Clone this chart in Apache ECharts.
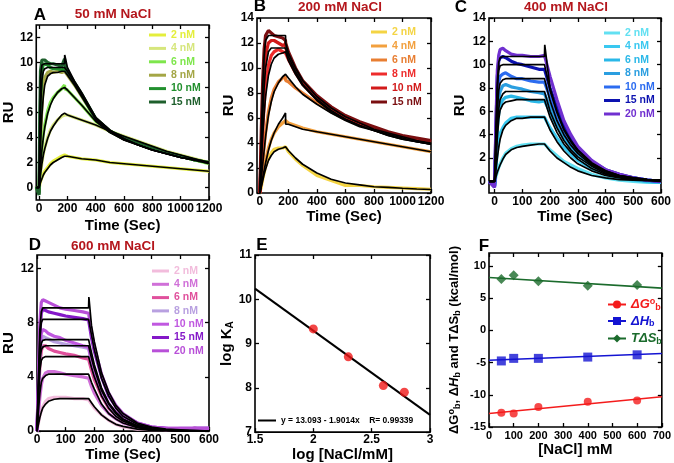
<!DOCTYPE html>
<html><head><meta charset="utf-8">
<script src="https://cdn.jsdelivr.net/npm/echarts@6/dist/echarts.min.js"></script>
<style>html,body{margin:0;padding:0;background:#fff}#c{width:674px;height:463px}</style>
</head><body><div id="c"></div>
<script>
// ---------- Panel A: 50 mM NaCl ----------
const tA = [-20,0,5,10,20,30,40,60,80,100,130,160,180,181,200,250,300,400,500,600,700,800,900,1000,1100,1200];
const A2   = [0.1,-0.3,0.3,0.5,0.8,1.1,1.3,1.6,1.9,2.1,2.3,2.5,2.6,2.5,2.5,2.4,2.3,2.2,2.0,1.9,1.8,1.7,1.6,1.5,1.4,1.3];
const A2f  = [0,0,0.2,0.4,0.7,1.0,1.2,1.5,1.8,2.0,2.2,2.4,2.5,2.5,2.5,2.4,2.3,2.2,2.0,1.9,1.8,1.7,1.6,1.5,1.4,1.3];
const A4   = [0,-0.2,0.6,1.1,2.0,2.7,3.2,4.0,4.6,5.0,5.4,5.7,5.8,5.9,5.8,5.6,5.4,5.0,4.5,4.1,3.7,3.3,2.9,2.6,2.3,2.0];
const A4f  = [0,0,0.5,1.0,1.9,2.6,3.1,3.9,4.5,4.9,5.4,5.8,5.95,5.95,5.8,5.6,5.4,5.0,4.5,4.1,3.7,3.3,2.9,2.6,2.3,2.0];
const A6   = [0,-0.3,1.0,2.0,3.3,4.3,5.0,6.1,6.8,7.2,7.6,7.9,8.2,7.9,7.8,7.2,6.6,5.3,4.5,3.9,3.5,3.1,2.8,2.5,2.2,1.9];
const A6f  = [0,0,0.9,1.7,3.0,4.0,4.8,5.9,6.6,7.1,7.6,7.9,8.0,8.0,7.8,7.2,6.6,5.3,4.4,3.8,3.4,3.0,2.7,2.4,2.2,1.9];
const A8   = [0,-0.4,2.0,4.0,6.5,8.0,8.8,9.2,9.3,9.2,9.3,9.2,9.3,9.2,9.0,8.2,7.3,5.5,4.5,3.9,3.5,3.1,2.8,2.5,2.2,2.0];
const A8f  = [0,0,1.8,3.5,5.8,7.3,8.2,8.9,9.1,9.2,9.2,9.3,9.3,9.3,9.0,8.2,7.3,5.5,4.5,3.8,3.4,3.0,2.7,2.4,2.2,2.0];
const A10  = [0,-0.5,3.5,7.0,9.3,9.9,10.0,9.8,9.6,9.5,9.5,9.4,9.5,9.4,9.2,8.3,7.4,5.5,4.5,3.9,3.5,3.1,2.8,2.5,2.2,2.0];
const A10f = [0,0,3.5,6.3,8.6,9.3,9.5,9.6,9.6,9.6,9.6,9.6,9.6,9.6,9.3,8.4,7.5,5.5,4.5,3.9,3.4,3.0,2.7,2.4,2.2,2.0];
const A15  = [0.1,-0.6,5.5,9.3,10.2,10.3,10.2,10.0,9.9,9.9,9.8,9.7,10.3,9.8,9.3,8.4,7.5,5.5,4.5,4.0,3.6,3.2,2.8,2.5,2.2,2.0];
const A15f = [0,0,5.0,8.8,9.8,9.9,9.9,9.9,9.9,9.9,9.9,9.9,9.9,10.6,9.6,8.5,7.6,5.6,4.6,3.9,3.4,3.0,2.7,2.4,2.2,2.0];

// ---------- Panel B: 200 mM NaCl ----------
const tB = [0,10,20,30,40,60,80,100,130,160,180,181,200,250,300,400,500,600,700,800,900,1000,1100,1200];
const B2   = [0,0.5,1.1,1.6,2.1,2.8,3.2,3.5,3.6,3.6,3.7,3.6,3.3,2.7,2.2,1.4,1.0,0.6,0.6,0.5,0.45,0.4,0.35,0.3];
const B2f  = [0,0.5,1.0,1.5,1.9,2.6,3.0,3.3,3.5,3.6,3.7,3.7,3.4,2.8,2.3,1.6,1.1,0.8,0.65,0.5,0.45,0.38,0.32,0.28];
const B4   = [0,0.7,1.3,2.0,2.6,3.6,4.3,4.8,5.3,5.6,5.8,5.8,5.6,5.4,5.2,4.9,4.7,4.5,4.3,4.1,3.9,3.7,3.5,3.3];
const B4f  = [0,0.6,1.2,1.8,2.4,3.4,4.2,4.8,5.5,6.0,6.4,5.5,5.5,5.3,5.1,4.9,4.7,4.5,4.3,4.1,3.9,3.7,3.5,3.3];
const B6   = [0,1.2,2.5,3.7,4.8,6.5,7.6,8.3,8.9,9.2,9.3,9.0,8.9,8.4,8.0,7.2,6.5,5.9,5.5,5.1,4.7,4.4,4.2,4.0];
const B6f  = [0,1.1,2.3,3.4,4.5,6.2,7.3,8.1,8.8,9.3,9.5,9.5,9.2,8.5,7.9,7.1,6.4,5.8,5.3,5.0,4.6,4.3,4.1,3.9];
const B8   = [0,2.5,5.0,7.0,8.5,10.2,11.0,11.3,11.5,11.3,11.2,11.1,10.7,9.6,8.7,7.5,6.6,6.0,5.5,5.1,4.7,4.5,4.3,4.1];
const B8f  = [0,2.3,4.5,6.3,7.7,9.4,10.3,10.8,11.1,11.2,11.3,11.3,10.6,9.5,8.6,7.4,6.5,5.9,5.4,5.0,4.6,4.3,4.1,3.9];
const B10  = [0,3.5,7.0,9.5,11.0,12.0,12.2,12.2,12.0,11.8,11.9,11.6,11.0,9.8,8.8,7.6,6.7,6.0,5.5,5.1,4.8,4.5,4.3,4.1];
const B10f = [0,3.3,6.3,8.5,10.0,11.3,11.6,11.6,11.6,11.6,11.6,11.6,10.9,9.7,8.7,7.5,6.6,5.9,5.4,5.0,4.7,4.4,4.1,3.9];
const B15  = [0,5.0,9.0,11.5,12.6,13.0,12.8,12.6,12.5,12.4,12.2,12.0,11.3,10.0,9.0,7.8,6.9,6.2,5.7,5.3,4.9,4.6,4.4,4.2];
const B15f = [0,4.5,8.5,11.0,12.2,12.6,12.6,12.6,12.6,12.6,12.6,12.0,11.2,10.0,9.0,7.7,6.8,6.1,5.6,5.1,4.8,4.5,4.2,4.0];

// ---------- Panel C: 400 mM NaCl ----------
const tC = [-20,0,5,10,15,20,30,40,60,80,100,130,160,180,181,200,225,250,275,300,350,400,450,500,550,600];
const C2   = [0,-0.3,0.4,0.8,1.2,1.5,2.0,2.4,2.8,3.0,3.1,3.2,3.2,3.2,3.2,2.7,2.2,1.7,1.4,1.1,0.6,0.3,0.1,0,-0.1,-0.1];
const C2f  = [0,0,0.4,0.8,1.1,1.4,1.9,2.3,2.7,2.9,3.0,3.1,3.2,3.2,3.2,2.6,2.0,1.6,1.2,0.9,0.5,0.3,0.15,0.1,0.05,0];
const C4   = [0,-0.3,1.2,2.5,3.5,4.1,4.6,5.0,5.4,5.5,5.5,5.5,5.5,5.5,5.4,4.6,3.7,2.9,2.3,1.8,1.1,0.6,0.3,0.1,0,-0.1];
const C4f  = [0,0,1.0,2.0,2.9,3.6,4.4,4.8,5.2,5.4,5.4,5.5,5.5,5.5,5.5,4.4,3.4,2.6,2.0,1.5,0.9,0.5,0.3,0.15,0.1,0.05];
const C6   = [0,-0.4,2.0,4.5,5.8,6.5,7.0,7.2,7.3,7.2,7.1,6.9,6.8,6.9,6.8,5.9,4.7,3.7,2.9,2.2,1.4,0.8,0.4,0.2,0,-0.1];
const C6f  = [0,0,1.8,3.8,5.3,6.1,6.6,6.8,6.9,7.0,7.0,7.0,7.0,7.0,7.0,5.5,4.2,3.2,2.5,1.9,1.1,0.6,0.35,0.2,0.1,0.05];
const C8   = [0,-0.4,2.5,5.5,7.0,7.7,8.2,8.3,8.1,8.0,7.9,7.7,7.6,7.5,7.4,6.4,5.1,4.0,3.1,2.4,1.5,0.9,0.5,0.3,0.1,0];
const C8f  = [0,0,2.2,4.5,6.2,7.0,7.5,7.7,7.7,7.7,7.7,7.7,7.7,7.7,7.7,6.0,4.6,3.5,2.7,2.1,1.3,0.7,0.4,0.25,0.15,0.1];
const C10  = [0,-0.4,3.5,7.0,8.5,9.0,9.2,9.3,9.0,8.8,8.8,8.6,8.5,8.5,8.4,7.2,5.7,4.4,3.4,2.6,1.6,0.9,0.5,0.3,0.1,0];
const C10f = [0,0,3.0,6.0,7.8,8.4,8.7,8.8,8.8,8.8,8.8,8.8,8.8,8.8,8.8,6.9,5.2,4.0,3.1,2.4,1.4,0.8,0.5,0.3,0.15,0.1];
const C15  = [0,-0.5,4.5,9.0,10.3,10.6,10.7,10.6,10.3,10.1,10.0,9.8,9.6,9.6,9.5,8.0,6.3,4.8,3.7,2.8,1.7,1.0,0.6,0.3,0.1,0];
const C15f = [0,0,4.0,8.0,9.5,9.9,10.0,10.0,10.0,10.0,10.0,10.0,10.0,10.0,10.0,7.8,5.9,4.4,3.4,2.6,1.5,0.9,0.5,0.3,0.15,0.1];
const C20  = [0,-0.5,5.0,9.5,10.8,11.3,11.4,11.2,10.9,10.8,10.8,10.7,10.7,10.8,10.7,9.0,7.0,5.2,4.0,3.0,1.8,1.0,0.6,0.3,0.1,0];
const C20f = [0,0,4.5,8.5,10.2,10.6,10.7,10.7,10.7,10.7,10.7,10.7,10.7,10.7,11.7,8.0,6.0,4.5,3.5,2.7,1.6,0.9,0.5,0.3,0.15,0.1];

// ---------- Panel D: 600 mM NaCl ----------
const tD = [0,5,10,15,20,30,40,60,80,100,130,160,180,181,190,200,225,250,275,300,350,400,450,500,550,600];
const D2   = [0,0.6,1.1,1.5,1.8,2.2,2.4,2.5,2.5,2.5,2.4,2.4,2.3,2.3,2.0,1.7,1.2,0.8,0.5,0.3,0.15,0.1,0.1,0.1,0.2,0.1];
const D2f  = [0,0.5,1.0,1.4,1.7,2.0,2.2,2.35,2.4,2.4,2.4,2.4,2.4,2.4,2.1,1.8,1.2,0.8,0.5,0.35,0.15,0.05,0.03,0.02,0,0];
const D4   = [0,1.2,2.5,3.4,3.9,4.3,4.4,4.4,4.3,4.2,4.1,4.0,3.9,3.8,3.3,2.8,1.9,1.3,0.9,0.6,0.3,0.2,0.1,0.1,0.2,0.1];
const D4f  = [0,1.5,2.8,3.6,3.9,4.1,4.2,4.2,4.2,4.2,4.2,4.2,4.2,4.2,3.6,3.1,2.0,1.3,0.9,0.6,0.25,0.1,0.05,0.02,0,0];
const D6   = [0,2.3,4.8,5.9,6.3,6.3,6.1,5.9,5.8,5.7,5.6,5.4,5.3,5.3,4.5,3.8,2.6,1.7,1.2,0.8,0.4,0.2,0.1,0.1,0.2,0.1];
const D6f  = [0,2.5,4.5,5.2,5.4,5.5,5.5,5.5,5.5,5.5,5.5,5.5,5.5,5.5,4.7,4.0,2.6,1.7,1.1,0.75,0.3,0.15,0.07,0.03,0,0];
const D8   = [0,2.7,5.5,6.6,7.0,6.9,6.8,6.6,6.5,6.4,6.3,6.2,6.1,6.0,5.1,4.3,2.9,1.9,1.3,0.9,0.4,0.2,0.1,0.2,0.2,0.2];
const D8f  = [0,2.9,5.2,6.0,6.2,6.3,6.3,6.3,6.3,6.3,6.3,6.3,6.3,6.3,5.4,4.6,3.0,2.0,1.3,0.85,0.35,0.15,0.07,0.03,0,0];
const D10  = [0,3.0,6.0,7.2,7.5,7.4,7.2,7.0,6.9,6.7,6.5,6.3,6.2,6.1,5.2,4.4,3.0,2.0,1.4,1.0,0.5,0.3,0.2,0.2,0.2,0.2];
const D10f = [0,3.2,5.7,6.5,6.7,6.75,6.75,6.75,6.75,6.75,6.75,6.75,6.75,6.75,5.8,4.9,3.2,2.1,1.4,0.9,0.4,0.15,0.07,0.03,0,0];
const D15  = [0,3.5,7.2,8.7,9.0,8.9,8.8,8.7,8.6,8.5,8.4,8.3,8.2,8.1,6.9,5.9,4.0,2.6,1.8,1.2,0.6,0.3,0.2,0.1,0.2,0.2];
const D15f = [0,3.5,6.8,8.0,8.25,8.25,8.25,8.25,8.25,8.25,8.25,8.25,8.25,8.25,7.1,6.0,3.9,2.6,1.7,1.1,0.5,0.25,0.1,0.05,0,0];
const D20  = [0,4.0,8.0,9.5,9.7,9.6,9.5,9.3,9.1,9.0,8.9,8.8,8.7,8.6,7.3,6.2,4.2,2.8,1.9,1.3,0.6,0.3,0.2,0.2,0.2,0.2];
const D20f = [0,4.0,7.5,8.8,9.1,9.1,9.1,9.1,9.1,9.1,9.1,9.1,9.1,9.9,7.8,6.6,4.3,2.9,1.9,1.3,0.6,0.3,0.15,0.1,0.05,0];

// ---------- Panel E ----------
const eX = [2, 2.3, 2.6, 2.78];
const eY = [9.33, 8.7, 8.05, 7.9];
const eFitX = [1.5, 3];
const eFitY = [10.24, 7.39];

// ---------- Panel F ----------
const fX = [50, 100, 200, 400, 600];
const fG = [-12.8, -12.9, -11.9, -11.1, -10.9];
const fH = [-4.75, -4.35, -4.35, -4.15, -3.8];
const fS = [7.95, 8.55, 7.6, 6.9, 7.05];
const fFitX = [0, 700];
const fGfit = [-12.9, -10.3];
const fHfit = [-4.65, -3.6];
const fSfit = [8.2, 6.55];

// tick labels
const ticksA_x = [0,200,400,600,800,1000,1200];
const ticksA_y = [0,2,4,6,8,10,12];
const ticksB_y = [0,2,4,6,8,10,12,14];
const ticksC_x = [0,100,200,300,400,500,600];
const ticksD_y = [0,4,8,12];
const ticksE_x = [1.5,2,2.5,3];
const ticksE_y = [7,8,9,10,11];
const ticksF_x = [0,100,200,300,400,500,600,700];
const ticksF_y = [-15,-10,-5,0,5,10];

const concA = ['2 nM','4 nM','6 nM','8 nM','10 nM','15 nM'];
const concC = ['2 nM','4 nM','6 nM','8 nM','10 nM','15 nM','20 nM'];

const FF = '"Liberation Sans", Arial, Helvetica, sans-serif';
const grids = [], xAxes = [], yAxes = [], series = [], legends = [];

function addPanel(o) {
  const gi = grids.length;
  grids.push({left:o.l, top:o.t, width:o.w, height:o.h, show:true, borderColor:'#000', borderWidth:1.6, backgroundColor:'rgba(0,0,0,0)'});
  const tick = (vals) => ({show:true, inside:true, length:4, lineStyle:{color:'#000', width:1.3}, customValues:vals});
  const lab = (vals, m) => ({customValues:vals, fontSize:o.fs, fontWeight:'bold', color:'#000', fontFamily:FF, margin:m,
    formatter:(v) => String(v)});
  const nameStyle = Object.assign({fontSize:o.nfs||15, fontWeight:'bold', color:'#000', fontFamily:FF}, o.nameRich ? {rich:o.nameRich} : {});
  const line = {show:false, onZero:false};
  xAxes.push({gridIndex:gi, type:'value', min:o.xmin, max:o.xmax, position:'bottom', axisLine:line, splitLine:{show:false},
    axisTick:tick(o.xt), axisLabel:lab(o.xt, o.xm||3), name:o.xname, nameLocation:'middle', nameGap:o.xgap, nameTextStyle:nameStyle});
  xAxes.push({gridIndex:gi, type:'value', min:o.xmin, max:o.xmax, position:'top', axisLine:line, splitLine:{show:false},
    axisTick:tick(o.xt), axisLabel:{show:false}});
  yAxes.push({gridIndex:gi, type:'value', min:o.ymin, max:o.ymax, position:'left', axisLine:line, splitLine:{show:false},
    axisTick:tick(o.yt), axisLabel:lab(o.yt, o.ym||3), name:o.yname, nameLocation:'middle', nameGap:o.ygap, nameTextStyle:nameStyle});
  yAxes.push({gridIndex:gi, type:'value', min:o.ymin, max:o.ymax, position:'right', axisLine:line, splitLine:{show:false},
    axisTick:tick(o.yt), axisLabel:{show:false}});
  return {x: 2*gi, y: 2*gi};
}
function pairs(xs, ys) { return xs.map((x, i) => [x, ys[i]]); }

function sensorPanel(tag, ax, t, names, dataArr, fitArr, colors, legPos) {
  names.forEach((n, i) => {
    series.push({type:'line', name:tag + '|' + n, xAxisIndex:ax.x, yAxisIndex:ax.y, data:pairs(t, dataArr[i]),
      showSymbol:false, symbol:'none', lineStyle:{color:colors[i], width:3.2}, itemStyle:{color:colors[i]}, z:2, silent:true});
  });
  names.forEach((n, i) => {
    series.push({type:'line', name:tag + 'fit' + i, xAxisIndex:ax.x, yAxisIndex:ax.y, data:pairs(t, fitArr[i]),
      showSymbol:false, symbol:'none', lineStyle:{color:'#000', width:1.7}, itemStyle:{color:'#000'}, z:3, silent:true});
  });
  legends.push({left:legPos[0], top:legPos[1], orient:'vertical', icon:'rect', itemWidth:legPos[3], itemHeight:3, itemGap:legPos[2], padding:0,
    selectedMode:false, data:names.map((n, i) => ({name:tag + '|' + n, textStyle:{color:colors[i]}})),
    formatter: (nm) => nm.split('|')[1],
    textStyle:{fontSize:10.5, fontWeight:'bold', fontFamily:FF, lineHeight:12}});
}

// Panel A
const axA = addPanel({l:33, t:25, w:176, h:175, xmin:-20, xmax:1200, ymin:-1, ymax:13, xt:ticksA_x, yt:ticksA_y, fs:12,
  xname:'Time (Sec)', xgap:18, yname:'RU', ygap:17});
sensorPanel('A', axA, tA, concA, [A2,A4,A6,A8,A10,A15], [A2f,A4f,A6f,A8f,A10f,A15f],
  ['#e4ee3c','#d6e67c','#7ee64c','#a4a646','#22902e','#1e5f2c'], [149, 29, 1.4, 17]);

// Panel B
const axB = addPanel({l:257, t:18, w:174, h:175, xmin:-20, xmax:1200, ymin:0, ymax:14, xt:ticksA_x, yt:ticksB_y, fs:12,
  xname:'Time (Sec)', xgap:15, yname:'RU', ygap:20});
sensorPanel('B', axB, tB, concA, [B2,B4,B6,B8,B10,B15], [B2f,B4f,B6f,B8f,B10f,B15f],
  ['#f4d444','#f2a03e','#e87e32','#ee2c2c','#d21a1a','#7a0e10'], [371, 26, 2, 16]);

// Panel C
const axC = addPanel({l:489, t:18, w:174, h:175, xmin:-20, xmax:600, ymin:-1, ymax:14, xt:ticksC_x, yt:ticksB_y, fs:12,
  xname:'Time (Sec)', xgap:15, yname:'RU', ygap:22});
sensorPanel('C', axC, tC, concC, [C2,C4,C6,C8,C10,C15,C20], [C2f,C4f,C6f,C8f,C10f,C15f,C20f],
  ['#62e0f2','#3ac8f0','#2ab8e8','#2a9ee0','#2c6cf0','#0c12b0','#7030d0'], [604, 27, 1.5, 16]);

// Panel D
const axD = addPanel({l:33, t:255, w:176, h:177, xmin:0, xmax:600, ymin:0, ymax:13, xt:ticksC_x, yt:ticksD_y, fs:12,
  xname:'Time (Sec)', xgap:15, yname:'RU', ygap:21});
sensorPanel('D', axD, tD, concC, [D2,D4,D6,D8,D10,D15,D20], [D2f,D4f,D6f,D8f,D10f,D15f,D20f],
  ['#f2bcdc','#d070d8','#e0509c','#b8a0e0','#c058e0','#8418c8','#b850d8'], [152, 265, 1.3, 17]);

// Panel E
const axE = addPanel({l:255, t:255, w:175, h:178, xmin:1.5, xmax:3, ymin:7, ymax:11, xt:ticksE_x, yt:ticksE_y, fs:12,
  xname:'log [NaCl/mM]', xgap:9, xm:2, yname:'{n|log K}{s|A}', ygap:18,
  nameRich:{n:{fontSize:15, fontWeight:'bold', fontFamily:FF, color:'#000'}, s:{fontSize:10, fontWeight:'bold', fontFamily:FF, color:'#000', verticalAlign:'bottom', padding:[6,0,0,0]}}});
series.push({type:'line', name:'eFit', xAxisIndex:axE.x, yAxisIndex:axE.y, data:pairs(eFitX, eFitY), showSymbol:false, symbol:'none',
  lineStyle:{color:'#000', width:2}, itemStyle:{color:'#000'}, z:2, silent:true});
series.push({type:'scatter', name:'ePts', xAxisIndex:axE.x, yAxisIndex:axE.y, data:pairs(eX, eY), symbol:'circle', symbolSize:9,
  itemStyle:{color:'#f01818'}, z:3, silent:true});
legends.push({left:258, top:416, icon:'rect', itemWidth:18, itemHeight:2, padding:0, selectedMode:false, data:['eFit'],
  formatter: () => 'y = 13.093 - 1.9014x    R= 0.99339',
  textStyle:{fontSize:8.5, fontWeight:'bold', fontFamily:FF, color:'#000'}});

// Panel F
const richF = {
  n:{fontSize:13, fontWeight:'bold', fontFamily:FF, color:'#000'},
  i:{fontSize:13, fontWeight:'bold', fontStyle:'italic', fontFamily:FF, color:'#000'},
  p:{fontSize:9, fontWeight:'bold', fontFamily:FF, color:'#000', verticalAlign:'top', padding:[0,0,6,0]},
  b:{fontSize:9, fontWeight:'bold', fontFamily:FF, color:'#000', verticalAlign:'bottom', padding:[6,0,0,0]}
};
const axF = addPanel({l:489, t:253, w:184, h:174, xmin:0, xmax:700, ymin:-15, ymax:12, xt:ticksF_x, yt:ticksF_y, fs:11,
  xname:'[NaCl] mM', xgap:14, nfs:15,
  yname:'{n|ΔG}{p|o}{b|b}{n|, Δ}{i|H}{b|b}{n| and TΔS}{b|b}{n| (kcal/mol)}', ygap:27, nameRich:richF});
const fSer = [
  {nm:'dG', pts:fG, fit:fGfit, col:'#f41c1c', sym:'circle', size:8},
  {nm:'dH', pts:fH, fit:fHfit, col:'#1414d2', sym:'rect', size:9},
  {nm:'TdS', pts:fS, fit:fSfit, col:'#1b6b2c', sym:'diamond', size:10}
];
fSer.forEach(s => {
  series.push({type:'line', name:s.nm, xAxisIndex:axF.x, yAxisIndex:axF.y, data:pairs(fFitX, s.fit), showSymbol:false,
    symbol:s.sym, symbolSize:s.size, lineStyle:{color:s.col, width:1.6}, itemStyle:{color:s.col}, z:2, silent:true});
  series.push({type:'scatter', name:s.nm + 'pts', xAxisIndex:axF.x, yAxisIndex:axF.y, data:pairs(fX, s.pts), symbol:s.sym,
    symbolSize:s.size, itemStyle:{color:s.col}, z:3, silent:true});
});
const legRich = (c) => ({
  i:{fontSize:13, fontWeight:'bold', fontStyle:'italic', fontFamily:FF, color:c},
  p:{fontSize:9, fontWeight:'bold', fontFamily:FF, color:c, verticalAlign:'top', padding:[0,0,5,0]},
  b:{fontSize:9, fontWeight:'bold', fontFamily:FF, color:c, verticalAlign:'bottom', padding:[6,0,0,0]}
});
const legTxt = {dG:'{i|ΔG}{p|o}{b|b}', dH:'{i|ΔH}{b|b}', TdS:'{i|TΔS}{b|b}'};
fSer.forEach((s, k) => {
  legends.push({left:607, top:297 + k*17.5, itemWidth:18, itemHeight:10, padding:0, selectedMode:false, data:[s.nm],
    formatter: (nm) => legTxt[nm], textStyle:{rich:legRich(s.col), color:s.col}});
});

// titles
const txt = (x, y, t, size, color) => ({type:'text', x:x, y:y, silent:true,
  style:{text:t, font:'bold ' + size + 'px ' + FF, fill:color, textAlign:'center', textVerticalAlign:'middle'}});
const red = '#b4161c';
const graphic = [
  txt(40, 15, 'A', 17, '#000'), txt(113, 14, '50 mM NaCl', 13.5, red),
  txt(260, 6, 'B', 17, '#000'), txt(340, 7, '200 mM NaCl', 13.5, red),
  txt(461, 7, 'C', 17, '#000'), txt(566, 7, '400 mM NaCl', 13.5, red),
  txt(35, 245, 'D', 17, '#000'), txt(113, 246, '600 mM NaCl', 13.5, red),
  txt(262, 245, 'E', 17, '#000'),
  txt(484, 246, 'F', 17, '#000')
];

const chart = echarts.init(document.getElementById('c'), null, {renderer:'canvas'});
chart.setOption({
  animation:false, backgroundColor:'#fff',
  grid:grids, xAxis:xAxes, yAxis:yAxes, series:series, legend:legends, graphic:graphic
});
</script></body></html>
